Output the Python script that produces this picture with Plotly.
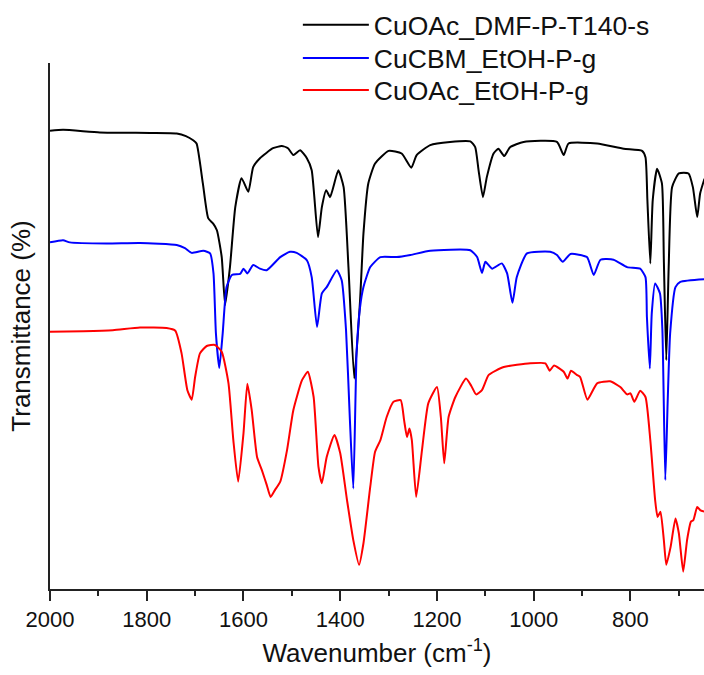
import plotly.graph_objects as go

# ---- data (wavenumber in cm^-1, transmittance in arbitrary offset %) ----
wn_black = [2000, 1973, 1897, 1793, 1738, 1719, 1704, 1697, 1684, 1673, 1663, 1655, 1645, 1638,
            1628, 1617, 1604, 1590, 1580, 1566, 1539, 1521, 1508, 1497, 1483, 1469, 1459, 1446,
            1438, 1429, 1421, 1404, 1393, 1383, 1371, 1359, 1352, 1342, 1328, 1300, 1273, 1253,
            1242, 1214, 1173, 1131, 1121, 1114, 1105, 1097, 1083, 1073, 1061, 1049, 1021, 952,
            938, 928, 869, 814, 776, 769, 765, 759, 754, 745, 735, 731, 726, 721, 714, 700, 680,
            671, 662, 656, 647]
t_black = [87.1, 87.3, 86.8, 86.7, 86.6, 86.1, 85.3, 84.7, 77.1, 70.5, 69.5, 68.2, 63.1, 54.0,
           61.2, 72.6, 78.1, 75.5, 80.2, 81.9, 83.8, 84.2, 83.8, 82.5, 83.4, 81.9, 79.6, 66.9,
           72.6, 75.8, 74.5, 79.6, 76.4, 61.2, 40.0, 54.9, 67.6, 77.1, 80.9, 83.3, 82.8, 80.1,
           82.5, 84.4, 85.0, 85.1, 84.0, 79.6, 74.5, 78.3, 82.8, 83.7, 82.3, 84.0, 85.0, 85.0,
           82.5, 84.7, 84.7, 83.7, 83.3, 82.1, 73.9, 61.9, 73.9, 79.9, 77.1, 62.5, 43.5, 61.2,
           76.4, 79.0, 79.0, 76.4, 70.7, 75.2, 78.0]

wn_blue = [2000, 1973, 1959, 1883, 1814, 1738, 1721, 1707, 1683, 1669, 1662, 1657, 1650, 1643,
           1635, 1624, 1607, 1600, 1592, 1580, 1566, 1552, 1524, 1504, 1490, 1469, 1459, 1448,
           1438, 1428, 1407, 1397, 1388, 1380, 1373, 1366, 1359, 1352, 1338, 1317, 1283, 1255,
           1214, 1131, 1117, 1107, 1100, 1086, 1066, 1055, 1044, 1035, 1014, 966, 952, 940, 924,
           890, 876, 862, 835, 807, 780, 769, 766, 760, 756, 749, 739, 734, 728, 723, 718, 707,
           697, 647]
t_blue = [65.9, 66.3, 65.9, 65.7, 65.8, 65.4, 64.8, 63.9, 64.3, 63.8, 60.0, 48.6, 42.0, 48.6,
          57.4, 59.7, 59.9, 60.9, 60.0, 61.6, 60.9, 60.6, 63.1, 64.1, 63.9, 62.5, 59.3, 49.8,
          56.2, 57.4, 60.6, 58.7, 49.2, 32.1, 19.1, 45.4, 53.6, 57.4, 61.2, 63.1, 63.1, 63.5,
          64.3, 64.4, 63.1, 60.1, 62.2, 60.9, 61.9, 60.0, 54.4, 59.3, 63.8, 64.1, 63.5, 62.2, 63.7,
          63.1, 59.7, 62.6, 62.6, 61.2, 60.9, 59.3, 51.7, 41.9, 52.4, 58.1, 56.2, 49.2, 20.7, 35.9,
          48.6, 57.4, 58.4, 58.9]

wn_red = [2000, 1931, 1870, 1814, 1759, 1741, 1728, 1716, 1707, 1700, 1690, 1676, 1659, 1645,
          1631, 1621, 1611, 1600, 1592, 1583, 1572, 1562, 1552, 1544, 1535, 1524, 1510, 1497,
          1479, 1467, 1455, 1445, 1438, 1428, 1412, 1400, 1386, 1373, 1361, 1352, 1338, 1328,
          1317, 1304, 1290, 1275, 1268, 1262, 1257, 1252, 1243, 1231, 1218, 1200, 1192, 1185,
          1176, 1162, 1140, 1129, 1119, 1107, 1093, 1062, 1007, 976, 967, 958, 938, 930, 923,
          911, 904, 889, 869, 842, 821, 807, 800, 792, 780, 769, 759, 749, 744, 738, 731, 726,
          717, 707, 700, 691, 683, 675, 670, 662, 656, 647]
t_red = [48.9, 49.0, 49.2, 49.7, 49.6, 49.1, 44.8, 37.8, 36.0, 40.3, 44.8, 46.2, 46.4, 45.1,
         39.1, 28.3, 20.4, 29.6, 39.0, 34.0, 25.1, 22.6, 19.8, 17.5, 18.8, 20.4, 26.4, 34.0,
         39.7, 41.3, 36.5, 23.2, 20.1, 25.1, 29.3, 25.8, 16.9, 9.3, 4.6, 8.7, 19.4, 26.1,
         28.3, 32.7, 35.6, 35.9, 32.1, 28.9, 30.5, 28.3, 17.5, 26.4, 35.3, 38.4, 32.7, 23.9,
         32.7, 36.5, 40.0, 38.6, 37.0, 37.8, 40.7, 42.2, 42.9, 42.9, 41.5, 42.5, 41.3, 40.0, 41.5,
         40.7, 40.3, 36.0, 39.1, 39.5, 38.4, 37.0, 37.2, 35.6, 37.7, 36.5, 28.3, 16.9, 13.7, 14.7,
         9.3, 4.6, 8.0, 13.4, 10.6, 3.3, 9.3, 12.8, 13.1, 15.6, 15.0, 14.7]

series_names = ["CuOAc_DMF-P-T140-s", "CuCBM_EtOH-P-g", "CuOAc_EtOH-P-g"]
series_colors = ["#000000", "#0000ff", "#ff0000"]
x_ticks = [2000, 1800, 1600, 1400, 1200, 1000, 800]

FONT = "Liberation Sans, Arial, sans-serif"
legend_ids = ["legend", "legend2", "legend3"]
legend_rows_y = [1.072, 1.009, 0.948]

fig = go.Figure()
for name, color, xs, ys, lid in zip(series_names, series_colors,
                                    [wn_black, wn_blue, wn_red], [t_black, t_blue, t_red],
                                    legend_ids):
    fig.add_trace(go.Scatter(x=xs, y=ys, mode="lines", name=name, legend=lid,
                             line=dict(color=color, width=2, shape="spline", smoothing=0.5)))

legend_common = dict(x=0.379, xanchor="left", yanchor="middle",
                     font=dict(size=26.5, family=FONT, color="#111111"),
                     bgcolor="rgba(0,0,0,0)", itemwidth=66)

fig.update_layout(
    width=704, height=675,
    margin=dict(l=50, r=0, t=63, b=86),
    plot_bgcolor="white", paper_bgcolor="white",
    font=dict(family=FONT, color="#111111"),
    showlegend=True,
    legend=dict(y=legend_rows_y[0], **legend_common),
    legend2=dict(y=legend_rows_y[1], **legend_common),
    legend3=dict(y=legend_rows_y[2], **legend_common),
    xaxis=dict(range=[2000, 648], tickvals=x_ticks, ticks="outside", ticklen=10, tickwidth=2,
               tickcolor="#222", showline=True, linecolor="#222", linewidth=2, showgrid=False,
               zeroline=False, tickfont=dict(size=22, family=FONT, color="#111"),
               minor=dict(dtick=100, ticks="outside", ticklen=5, tickwidth=2, tickcolor="#222",
                          showgrid=False),
               title=dict(text="Wavenumber (cm<sup>-1</sup>)", font=dict(size=26, family=FONT),
                          standoff=12)),
    yaxis=dict(range=[0, 100], showline=True, linecolor="#222", linewidth=2, showgrid=False,
               zeroline=False, showticklabels=False, ticks="",
               title=dict(text="Transmittance (%)", font=dict(size=26, family=FONT), standoff=10)),
)

fig.write_html("out.html")
